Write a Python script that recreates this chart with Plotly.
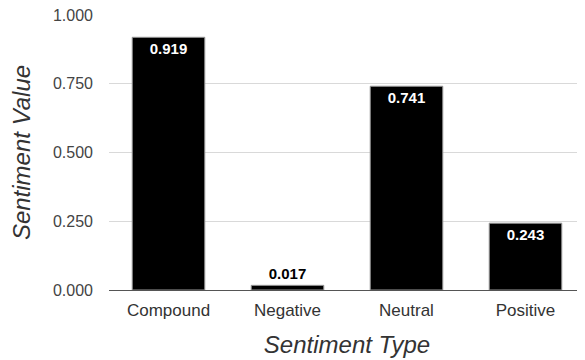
import plotly.graph_objects as go

categories = ["Compound", "Negative", "Neutral", "Positive"]
values = [0.919, 0.017, 0.741, 0.243]
labels = ["0.919", "0.017", "0.741", "0.243"]
y_ticks = [0, 0.25, 0.5, 0.75, 1.0]
y_tick_text = ["0.000", "0.250", "0.500", "0.750", "1.000"]

fig = go.Figure(go.Bar(
    x=categories, y=values, text=labels,
    textposition="auto",
    insidetextanchor="end",
    insidetextfont=dict(color="white", size=15, family="Liberation Sans, Arial", weight="bold"),
    outsidetextfont=dict(color="black", size=15, family="Liberation Sans, Arial", weight="bold"),
    textangle=0,
    marker=dict(color="black", line=dict(color="#9a9a9a", width=1)),
    width=0.61,
    cliponaxis=False,
))

# page body has an ~8px offset; compensate
fig.update_layout(
    width=577, height=352,
    margin=dict(l=101, r=0, t=7, b=70, autoexpand=False),
    plot_bgcolor="white", paper_bgcolor="white",
    font=dict(family="Liberation Sans, Arial", color="#444"),
    showlegend=False,
)
fig.update_yaxes(
    range=[0, 1.0], tickvals=y_ticks, ticktext=y_tick_text,
    showgrid=True, gridcolor="#d9d9d9", gridwidth=1,
    zeroline=True, zerolinecolor="#555", zerolinewidth=1,
    tickfont=dict(size=16, color="#444"),
    ticks="", ticklabelstandoff=15, ticklabeloverflow="allow",
    title=dict(text="<i>Sentiment Value</i>", font=dict(size=24, color="#333"), standoff=24),
)
fig.update_xaxes(
    tickfont=dict(size=17, color="#333"),
    showgrid=False, showline=False,
    ticklabelstandoff=8,
    title=dict(text="<i>Sentiment Type</i>", font=dict(size=24, color="#333"), standoff=17),
)
fig.write_html("out.html")
